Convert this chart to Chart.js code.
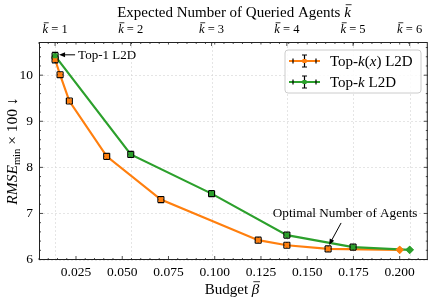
<!DOCTYPE html>
<html>
<head>
<meta charset="utf-8">
<script src="https://cdn.jsdelivr.net/npm/chart.js@4.4.0/dist/chart.umd.min.js"></script>
<style>
	html, body { margin: 0; padding: 0; background: #fff; }
	#wrap { width: 432px; height: 301px; }
</style>
</head>
<body>
<div id="wrap"><canvas id="chart"></canvas></div>
<script>
// Top-k(x) L2D (orange)
const budgetTopKx = [0.0137, 0.0164, 0.0214, 0.0416, 0.0709, 0.1235, 0.1390, 0.1613, 0.2000];
const rmseTopKx = [10.34, 10.01, 9.44, 8.24, 7.30, 6.42, 6.31, 6.23, 6.21];
const yerrTopKx = [0.075, 0.065, 0.065, 0.065, 0.065, 0.065, 0.065, 0.065, 0];
const xerrTopKx = [0.0016, 0.0016, 0.0016, 0.0016, 0.0016, 0.0016, 0.0016, 0.0016, 0];

// Top-k L2D (green), one point per expected number of agents
const agentsTopK = [1, 2, 3, 4, 5, 6];
const budgetTopK = [0.0137, 0.0546, 0.0983, 0.1390, 0.1748, 0.2054];
const rmseTopK = [10.42, 8.28, 7.43, 6.53, 6.27, 6.21];
const yerrTopK = [0.075, 0.065, 0.065, 0.065, 0.065, 0];
const xerrTopK = [0.0016, 0.0016, 0.0016, 0.0016, 0.0016, 0];

// axis ticks
const budgetTicks = [0.025, 0.050, 0.075, 0.100, 0.125, 0.150, 0.175, 0.200];
const budgetMinorTicks = [0.005, 0.010, 0.015, 0.020, 0.030, 0.035, 0.040, 0.045, 0.055, 0.060, 0.065, 0.070, 0.080, 0.085, 0.090, 0.095, 0.105, 0.110, 0.115, 0.120, 0.130, 0.135, 0.140, 0.145, 0.155, 0.160, 0.165, 0.170, 0.180, 0.185, 0.190, 0.195, 0.205, 0.210];
const rmseTicks = [6, 7, 8, 9, 10];
const rmseMinorTicks = [6.2, 6.4, 6.6, 6.8, 7.2, 7.4, 7.6, 7.8, 8.2, 8.4, 8.6, 8.8, 9.2, 9.4, 9.6, 9.8, 10.2, 10.4, 10.6];

const ORANGE = '#ff7f0e';
const GREEN = '#2ca02c';
const FONT = '"Liberation Serif", "DejaVu Serif", serif';

let font = (size, italic) => (italic ? 'italic ' : '') + size + 'px ' + FONT;

// draw a line of mixed text (italic parts, subscripts, overlines)
function drawRich (ctx, parts, x, y, align = 'center') {
	ctx.save();
	ctx.textBaseline = 'alphabetic';
	ctx.textAlign = 'left';
	ctx.fillStyle = '#000';
	ctx.strokeStyle = '#000';
	let widths = parts.map(p => { ctx.font = font(p.size, p.it); return ctx.measureText(p.t).width; });
	let total = widths.reduce((a, b) => a + b, 0);
	let cx = align === 'center' ? x - total / 2 : (align === 'right' ? x - total : x);
	parts.forEach((p, i) => {
		ctx.font = font(p.size, p.it);
		ctx.fillText(p.t, cx, y + (p.dy || 0));
		if (p.ol) {
			ctx.beginPath();
			ctx.lineWidth = 0.8;
			let oy = y - p.size * 0.82;
			ctx.moveTo(cx + p.size * 0.1, oy);
			ctx.lineTo(cx + widths[i] + p.size * 0.05, oy);
			ctx.stroke();
		}
		cx += widths[i];
	});
	ctx.restore();
}

function arrow (ctx, x1, y1, x2, y2) {
	let a = Math.atan2(y2 - y1, x2 - x1);
	ctx.save();
	ctx.strokeStyle = '#000';
	ctx.fillStyle = '#000';
	ctx.lineWidth = 1;
	ctx.beginPath();
	ctx.moveTo(x1, y1);
	ctx.lineTo(x2 - 4 * Math.cos(a), y2 - 4 * Math.sin(a));
	ctx.stroke();
	ctx.beginPath();
	ctx.moveTo(x2, y2);
	ctx.lineTo(x2 - 6 * Math.cos(a) + 2.5 * Math.sin(a), y2 - 6 * Math.sin(a) - 2.5 * Math.cos(a));
	ctx.lineTo(x2 - 6 * Math.cos(a) - 2.5 * Math.sin(a), y2 - 6 * Math.sin(a) + 2.5 * Math.cos(a));
	ctx.closePath();
	ctx.fill();
	ctx.restore();
}

// grid lines under the data
let gridPlugin = {
	id: 'grid',
	beforeDatasetsDraw (chart) {
		let { ctx, chartArea: a, scales: { x, y } } = chart;
		ctx.save();
		ctx.strokeStyle = '#d4d4d4';
		ctx.lineWidth = 0.6;
		ctx.setLineDash([2, 2]);
		budgetTopK.forEach(v => {
			let px = Math.round(x.getPixelForValue(v)) + 0.5;
			ctx.beginPath(); ctx.moveTo(px, a.top); ctx.lineTo(px, a.bottom); ctx.stroke();
		});
		rmseTicks.forEach(v => {
			let py = Math.round(y.getPixelForValue(v)) + 0.5;
			ctx.beginPath(); ctx.moveTo(a.left, py); ctx.lineTo(a.right, py); ctx.stroke();
		});
		ctx.restore();
	},
};

// error bars, frame, inward ticks, legend, annotations and titles
let decorPlugin = {
	id: 'decor',
	afterDatasetsDraw (chart) {
		let { ctx, chartArea: a, scales: { x, y } } = chart;
		let series = [
			[budgetTopKx, rmseTopKx, xerrTopKx, yerrTopKx],
			[budgetTopK, rmseTopK, xerrTopK, yerrTopK],
		];
		let cap = 3;
		ctx.save();
		ctx.strokeStyle = '#000';
		ctx.lineWidth = 1.2;
		series.forEach(([bx, ry, xe, ye]) => {
			bx.forEach((b, i) => {
				if (!ye[i]) { return; }
				let px = x.getPixelForValue(b), py = y.getPixelForValue(ry[i]);
				let y0 = y.getPixelForValue(ry[i] - ye[i]), y1 = y.getPixelForValue(ry[i] + ye[i]);
				let x0 = x.getPixelForValue(b - xe[i]), x1 = x.getPixelForValue(b + xe[i]);
				ctx.beginPath();
				ctx.moveTo(px, y0); ctx.lineTo(px, y1);
				ctx.moveTo(px - cap, y0); ctx.lineTo(px + cap, y0);
				ctx.moveTo(px - cap, y1); ctx.lineTo(px + cap, y1);
				ctx.moveTo(x0, py); ctx.lineTo(x1, py);
				ctx.moveTo(x0, py - cap); ctx.lineTo(x0, py + cap);
				ctx.moveTo(x1, py - cap); ctx.lineTo(x1, py + cap);
				ctx.stroke();
			});
		});
		ctx.restore();

		// markers back on top of the bars
		[0, 1].forEach(di => {
			chart.getDatasetMeta(di).data.forEach(pt => pt.draw(ctx, a));
		});

		// frame
		ctx.save();
		ctx.strokeStyle = '#222';
		ctx.lineWidth = 1;
		ctx.strokeRect(a.left + 0.5, a.top + 0.5, a.right - a.left - 1, a.bottom - a.top - 1);

		// inward ticks
		ctx.lineWidth = 0.8;
		ctx.beginPath();
		budgetTicks.forEach(v => {
			let px = x.getPixelForValue(v);
			ctx.moveTo(px, a.bottom); ctx.lineTo(px, a.bottom - 4);
			ctx.moveTo(px, a.top); ctx.lineTo(px, a.top + 2.5);
		});
		budgetMinorTicks.forEach(v => {
			let px = x.getPixelForValue(v);
			ctx.moveTo(px, a.bottom); ctx.lineTo(px, a.bottom - 2);
			ctx.moveTo(px, a.top); ctx.lineTo(px, a.top + 2);
		});
		budgetTopK.forEach(v => {
			let px = x.getPixelForValue(v);
			ctx.moveTo(px, a.top); ctx.lineTo(px, a.top + 4);
		});
		rmseTicks.forEach(v => {
			let py = y.getPixelForValue(v);
			ctx.moveTo(a.left, py); ctx.lineTo(a.left + 4, py);
			ctx.moveTo(a.right, py); ctx.lineTo(a.right - 4, py);
		});
		rmseMinorTicks.forEach(v => {
			let py = y.getPixelForValue(v);
			ctx.moveTo(a.left, py); ctx.lineTo(a.left + 2, py);
			ctx.moveTo(a.right, py); ctx.lineTo(a.right - 2, py);
		});
		ctx.stroke();
		ctx.restore();

		// top axis labels
		agentsTopK.forEach((k, i) => {
			let px = x.getPixelForValue(budgetTopK[i]);
			drawRich(ctx, [{ t: 'k', it: true, size: 12.5, ol: true }, { t: ' = ' + k, size: 12.5 }], px, 33);
		});

		// annotations
		let p1x = x.getPixelForValue(budgetTopK[0]), p1y = y.getPixelForValue(rmseTopK[0]);
		arrow(ctx, p1x + 20, p1y - 1, p1x + 4, p1y - 1);
		drawRich(ctx, [{ t: 'Top-1 L2D', size: 13 }], p1x + 23, p1y + 3, 'left');
		let p2x = x.getPixelForValue(budgetTopKx[7]), p2y = y.getPixelForValue(rmseTopKx[7]);
		arrow(ctx, p2x + 13, p2y - 26, p2x + 1, p2y - 4);
		drawRich(ctx, [{ t: 'Optimal Number of Agents', size: 13.2 }], p2x + 17, p2y - 32);

		// legend
		let lx = 285, ly = 50, lw = 136, lh = 43, r = 3;
		ctx.save();
		ctx.beginPath();
		ctx.moveTo(lx + r, ly);
		ctx.arcTo(lx + lw, ly, lx + lw, ly + lh, r);
		ctx.arcTo(lx + lw, ly + lh, lx, ly + lh, r);
		ctx.arcTo(lx, ly + lh, lx, ly, r);
		ctx.arcTo(lx, ly, lx + lw, ly, r);
		ctx.closePath();
		ctx.fillStyle = 'rgba(255,255,255,0.85)';
		ctx.fill();
		ctx.strokeStyle = '#cccccc';
		ctx.lineWidth = 1;
		ctx.stroke();
		[[ORANGE, 61], [GREEN, 82]].forEach(([c, ry]) => {
			ctx.strokeStyle = c;
			ctx.lineWidth = 2;
			ctx.beginPath(); ctx.moveTo(289, ry); ctx.lineTo(320, ry); ctx.stroke();
			ctx.strokeStyle = '#000';
			ctx.lineWidth = 1.2;
			ctx.beginPath();
			ctx.moveTo(304.5, ry - 6); ctx.lineTo(304.5, ry + 6);
			ctx.moveTo(302, ry - 6); ctx.lineTo(307, ry - 6);
			ctx.moveTo(302, ry + 6); ctx.lineTo(307, ry + 6);
			ctx.moveTo(293, ry - 2.5); ctx.lineTo(293, ry + 2.5);
			ctx.moveTo(316, ry - 2.5); ctx.lineTo(316, ry + 2.5);
			ctx.stroke();
			ctx.fillStyle = c;
			ctx.fillRect(302.5, ry - 2, 4, 4);
		});
		ctx.restore();
		drawRich(ctx, [{ t: 'Top-', size: 15 }, { t: 'k', it: true, size: 15 }, { t: '(', size: 15 }, { t: 'x', it: true, size: 15 }, { t: ') L2D', size: 15 }], 330, 66, 'left');
		drawRich(ctx, [{ t: 'Top-', size: 15 }, { t: 'k', it: true, size: 15 }, { t: ' L2D', size: 15 }], 330, 87, 'left');

		// axis titles
		drawRich(ctx, [{ t: 'Expected Number of Queried Agents ', size: 15 }, { t: 'k', it: true, size: 15, ol: true }], 234, 17);
		drawRich(ctx, [{ t: 'Budget ', size: 15 }, { t: 'β', it: true, size: 15, ol: true }], 232, 294);
		ctx.save();
		ctx.translate(17, 151);
		ctx.rotate(-Math.PI / 2);
		drawRich(ctx, [{ t: 'RMSE', it: true, size: 15.5 }, { t: 'min', size: 10.5, dy: 3 }, { t: ' × 100 ↓', size: 15.5 }], 0, 0);
		ctx.restore();
	},
};

let pointStyles = (n) => Array.from({ length: n }, (_, i) => i === n - 1 ? 'rectRot' : 'rect');
let pointRadii = (n) => Array.from({ length: n }, (_, i) => i === n - 1 ? 4.2 : 3.4);

new Chart(document.getElementById('chart'), {
	type: 'line',
	data: {
		datasets: [
			{
				label: 'Top-k(x) L2D',
				data: budgetTopKx.map((b, i) => ({ x: b, y: rmseTopKx[i] })),
				borderColor: ORANGE,
				backgroundColor: ORANGE,
				borderWidth: 2.2,
				pointStyle: pointStyles(budgetTopKx.length),
				pointRadius: pointRadii(budgetTopKx.length),
				pointBorderWidth: 0,
				order: 1,
			},
			{
				label: 'Top-k L2D',
				data: budgetTopK.map((b, i) => ({ x: b, y: rmseTopK[i] })),
				borderColor: GREEN,
				backgroundColor: GREEN,
				borderWidth: 2.2,
				pointStyle: pointStyles(budgetTopK.length),
				pointRadius: pointRadii(budgetTopK.length),
				pointBorderWidth: 0,
				order: 0,
			},
		],
	},
	options: {
		responsive: true,
		maintainAspectRatio: false,
		animation: false,
		layout: { padding: { top: 42, right: 4 } },
		plugins: {
			legend: { display: false },
			tooltip: { enabled: false },
		},
		scales: {
			x: {
				type: 'linear',
				min: 0.005,
				max: 0.2152,
				grid: { display: false, drawTicks: false },
				border: { display: false },
				afterBuildTicks: (s) => { s.ticks = budgetTicks.map(v => ({ value: v })); },
				afterFit: (s) => { s.height = 41; },
				ticks: {
					color: '#000',
					font: { family: FONT, size: 13.5 },
					padding: 4,
					maxRotation: 0,
					autoSkip: false,
					callback: (v) => v.toFixed(3),
				},
			},
			y: {
				min: 5.99,
				max: 10.72,
				grid: { display: false, drawTicks: false },
				border: { display: false },
				afterBuildTicks: (s) => { s.ticks = rmseTicks.map(v => ({ value: v })); },
				afterFit: (s) => { s.width = 39; },
				ticks: {
					color: '#000',
					font: { family: FONT, size: 13.5 },
					padding: 6,
					callback: (v) => String(v),
				},
			},
		},
	},
	plugins: [ gridPlugin, decorPlugin ],
});
</script>
</body>
</html>
